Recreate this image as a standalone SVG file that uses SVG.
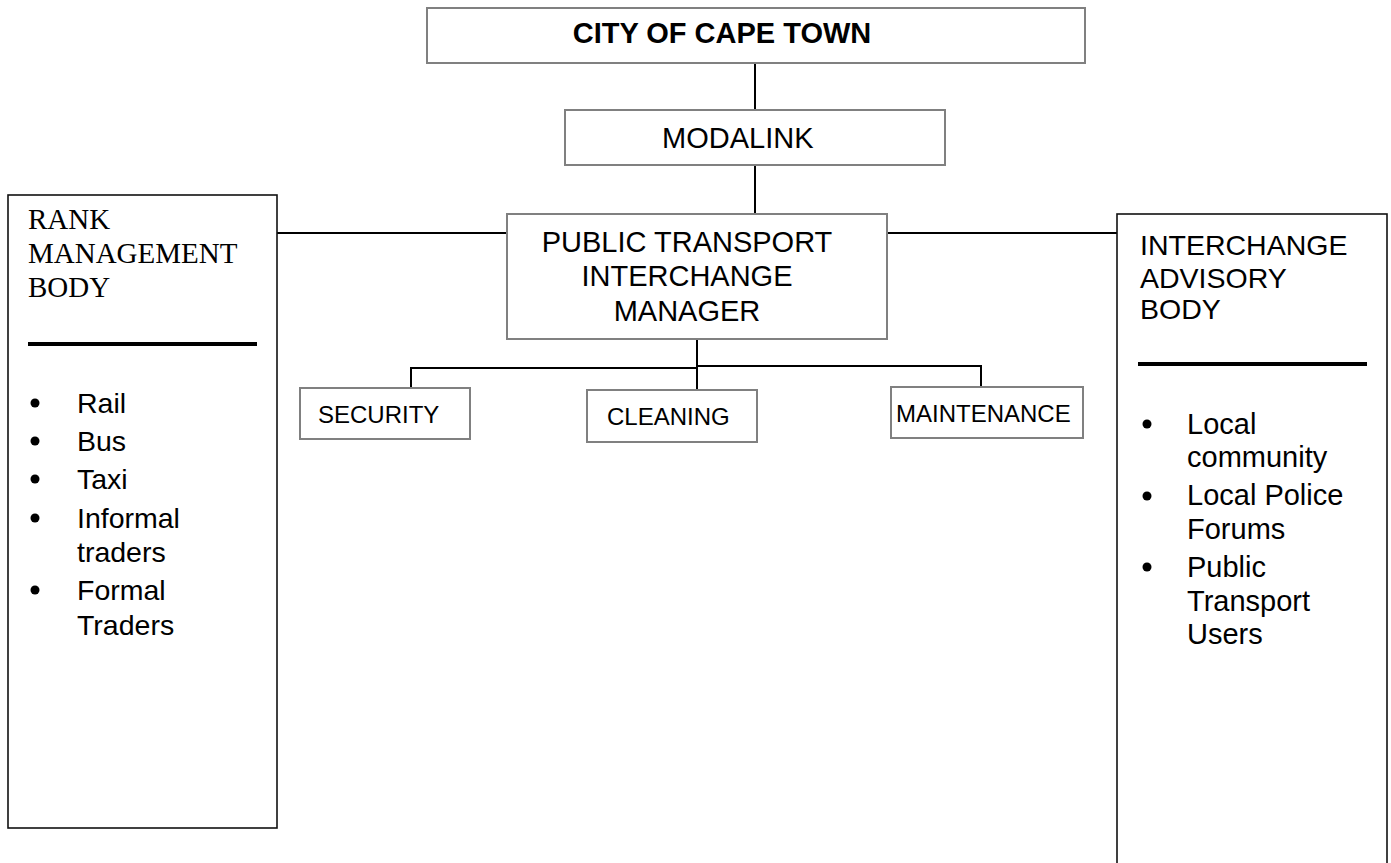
<svg xmlns="http://www.w3.org/2000/svg" width="1391" height="863" viewBox="0 0 1391 863">
<style>
.g{fill:#fff;stroke:#808080;stroke-width:2}
.b{fill:#fff;stroke:#111;stroke-width:1.6}
.c{stroke:#000;stroke-width:2;fill:none}
.a{font-family:"Liberation Sans",Arial,sans-serif;fill:#000}
.t{font-family:"Liberation Serif","Times New Roman",serif;fill:#000}
</style>
<rect width="1391" height="863" fill="#fff"/>
<g id="connectors">
<line class="c" x1="755" y1="63" x2="755" y2="110"/>
<line class="c" x1="755" y1="165" x2="755" y2="213"/>
<line class="c" x1="277" y1="233" x2="507" y2="233"/>
<line class="c" x1="888" y1="233" x2="1117" y2="233"/>
<line class="c" x1="697" y1="339" x2="697" y2="390"/>
<polyline class="c" points="411,388 411,368 697,368"/>
<polyline class="c" points="697,366 981,366 981,387"/>
</g>
<g id="city">
<rect class="g" x="427" y="8" width="658" height="55"/>
<text class="a" x="722" y="43" text-anchor="middle" font-size="29" font-weight="bold">CITY OF CAPE TOWN</text>
</g>
<g id="modalink">
<rect class="g" x="565" y="110" width="380" height="55"/>
<text class="a" x="662" y="148" font-size="29">MODALINK</text>
</g>
<g id="manager">
<rect class="g" x="507" y="214" width="380" height="125"/>
<text class="a" text-anchor="middle" font-size="29"><tspan x="687" y="252">PUBLIC TRANSPORT</tspan><tspan x="687" y="286">INTERCHANGE</tspan><tspan x="687" y="321">MANAGER</tspan></text>
</g>
<g id="security">
<rect class="g" x="300" y="388" width="170" height="51"/>
<text class="a" x="318" y="423" font-size="24">SECURITY</text>
</g>
<g id="cleaning">
<rect class="g" x="587" y="390" width="170" height="52"/>
<text class="a" x="607" y="425" font-size="24">CLEANING</text>
</g>
<g id="maintenance">
<rect class="g" x="891" y="387" width="192" height="51"/>
<text class="a" x="896" y="422" font-size="24">MAINTENANCE</text>
</g>
<g id="rank">
<rect class="b" x="8" y="195" width="269" height="633"/>
<text class="t" font-size="29"><tspan x="28" y="229">RANK</tspan><tspan x="28" y="263">MANAGEMENT</tspan><tspan x="28" y="297">BODY</tspan></text>
<line x1="28" y1="344" x2="257" y2="344" stroke="#000" stroke-width="4"/>
<g fill="#000">
<circle cx="35" cy="403" r="4.5"/><circle cx="35" cy="441" r="4.5"/><circle cx="35" cy="479" r="4.5"/><circle cx="35" cy="518" r="4.5"/><circle cx="35" cy="590" r="4.5"/>
</g>
<text class="a" font-size="28.5"><tspan x="77" y="413">Rail</tspan><tspan x="77" y="451">Bus</tspan><tspan x="77" y="489">Taxi</tspan><tspan x="77" y="528">Informal</tspan><tspan x="77" y="562">traders</tspan><tspan x="77" y="600">Formal</tspan><tspan x="77" y="635">Traders</tspan></text>
</g>
<g id="advisory">
<rect class="b" x="1117" y="214" width="270" height="660"/>
<text class="a" font-size="28.5"><tspan x="1140" y="255">INTERCHANGE</tspan><tspan x="1140" y="288">ADVISORY</tspan><tspan x="1140" y="319">BODY</tspan></text>
<line x1="1138" y1="364" x2="1367" y2="364" stroke="#000" stroke-width="4"/>
<g fill="#000">
<circle cx="1147" cy="424" r="4.5"/><circle cx="1147" cy="496" r="4.5"/><circle cx="1147" cy="567" r="4.5"/>
</g>
<text class="a" font-size="29"><tspan x="1187" y="434">Local</tspan><tspan x="1187" y="467">community</tspan><tspan x="1187" y="505">Local Police</tspan><tspan x="1187" y="539">Forums</tspan><tspan x="1187" y="577">Public</tspan><tspan x="1187" y="611">Transport</tspan><tspan x="1187" y="644">Users</tspan></text>
</g>
</svg>
